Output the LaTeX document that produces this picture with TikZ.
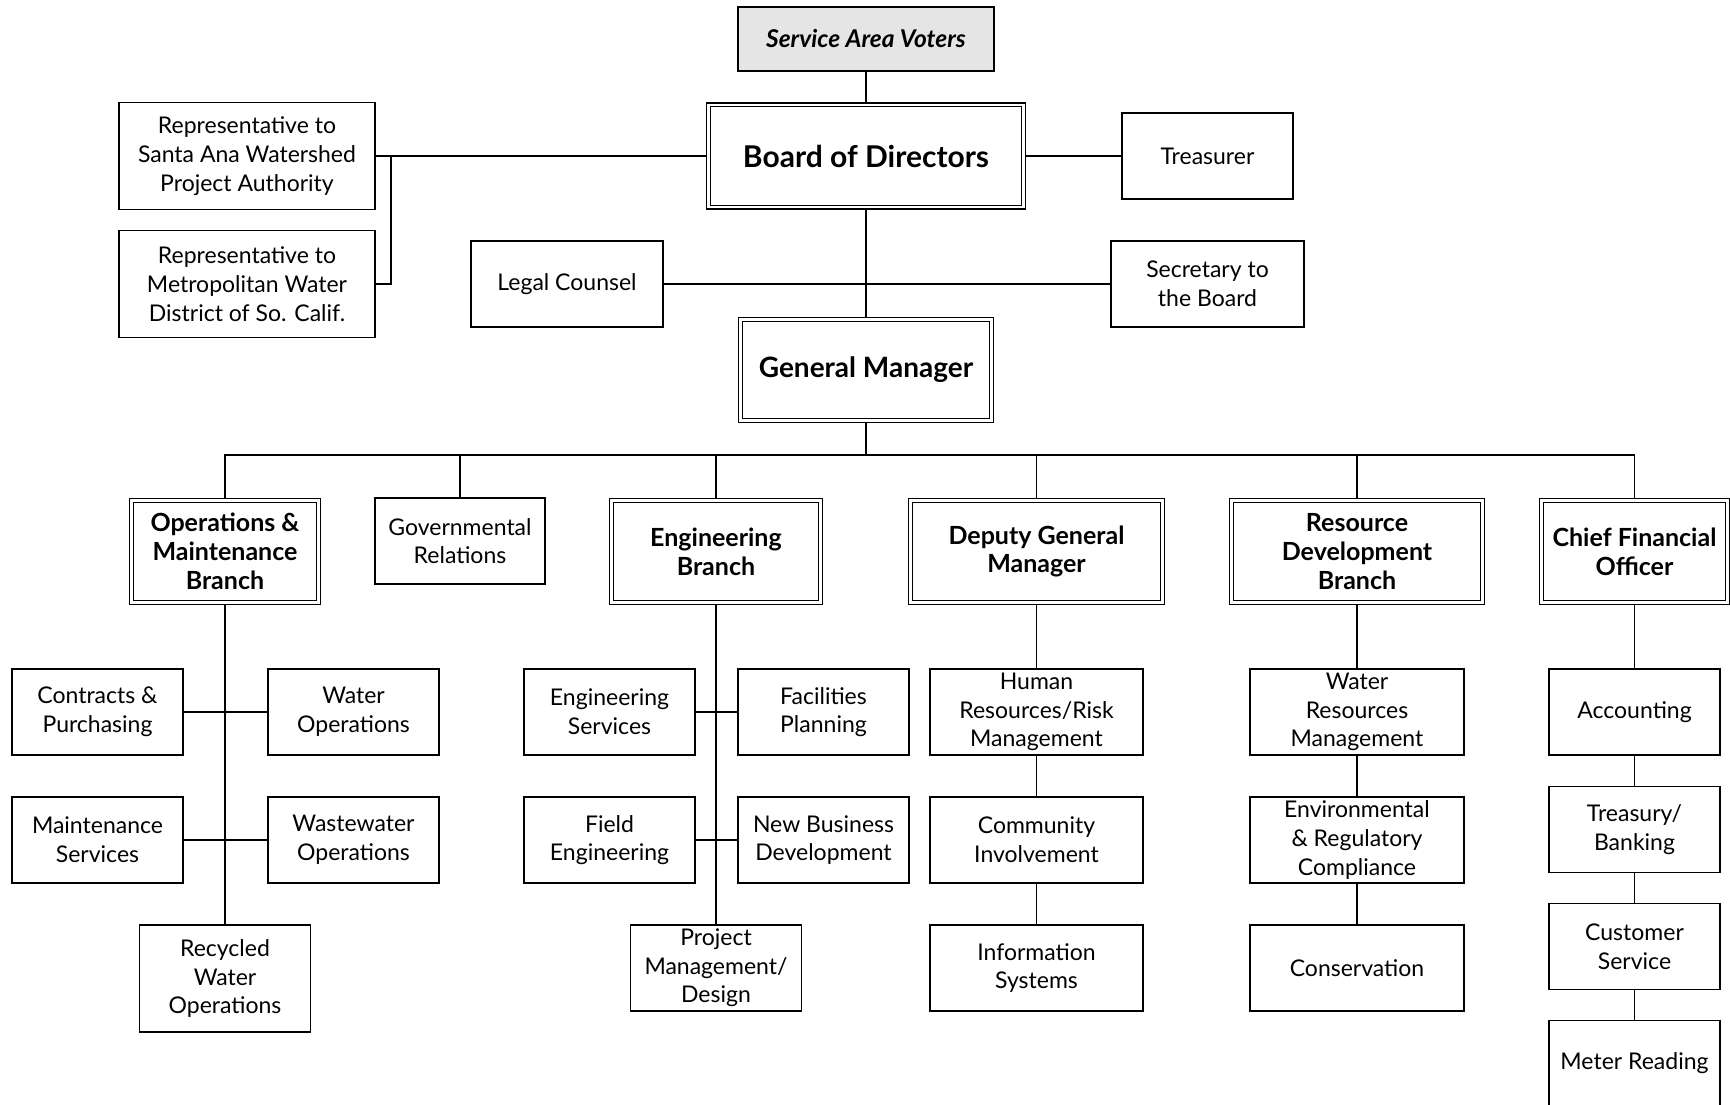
\documentclass[tikz,border=0pt]{standalone}
\usepackage{fontspec}
\setmainfont{Lato}
\usetikzlibrary{positioning,calc}

\begin{document}
\begin{tikzpicture}[
    x=1pt, y=-1pt,
    every node/.style={align=center, inner sep=0pt},
    box/.style={draw, line width=1.6pt, font=\fontsize{23}{28.7}\selectfont},
    unit/.style={box, minimum width=171pt, minimum height=86pt},
    branch/.style={box, double, double distance=2.6pt, line width=1.2pt, outer sep=2.5pt,
        minimum height=102pt, font=\fontsize{25}{28.7}\selectfont\bfseries},
    link/.style={line width=1.4pt}
]
    \useasboundingbox (0,0) rectangle (1730,1105);
    \clip (0,0) rectangle (1730,1105);

    % top of the chart
    \node[box, fill=black!10, minimum width=256pt, minimum height=64pt,
        font=\fontsize{24.5}{28}\selectfont\bfseries\itshape] (voters) at (866,39) {Service Area Voters};
    \node[branch, minimum width=315pt, font=\fontsize{30}{34}\selectfont\bfseries] (board) at (866,156) {Board of Directors};
    \node[unit] (treas) at (1207.5,156) {Treasurer};
    \node[unit, minimum width=256pt, minimum height=107pt] (sawpa) at (247,156) {Representative to\\Santa Ana Watershed\\Project Authority};
    \node[unit, minimum width=256pt, minimum height=107pt] (mwd) at (247,284) {Representative to\\Metropolitan Water\\District of So. Calif.};
    \node[unit, minimum width=192pt] (legal) at (567,284) {Legal Counsel};
    \node[unit, minimum width=193pt] (secr) at (1207.5,284) {Secretary to\\the Board};
    \node[branch, minimum width=251pt, minimum height=101pt, font=\fontsize{28}{32}\selectfont\bfseries] (gm) at (866,370) {General Manager};

    % branches
    \node[branch, minimum width=187pt] (ops) at (225,551.5) {Operations \&\\Maintenance\\Branch};
    \node[unit, minimum width=170pt] (gov) at (460,541) {Governmental\\Relations};
    \node[branch, minimum width=209pt] (eng) at (716,551.5) {Engineering\\Branch};
    \node[branch, minimum width=252pt] (dgm) at (1036.5,551.5) {Deputy General\\Manager};
    \node[branch, minimum width=251pt] (rdb) at (1357,551.5) {Resource\\Development\\Branch};
    \node[branch, minimum width=186pt] (cfo) at (1634.5,551.5) {Chief Financial\\Officer};

    % operations
    \node[unit] (contr) at (97.5,712) {Contracts \&\\Purchasing};
    \node[unit] (watops) at (353.5,712) {Water\\Operations};
    \node[unit] (maint) at (97.5,840) {Maintenance\\Services};
    \node[unit] (waste) at (353.5,840) {Wastewater\\Operations};
    \node[unit, minimum height=107pt] (recyc) at (225,978.5) {Recycled\\Water\\Operations};

    % engineering
    \node[unit] (engsvc) at (609.5,712) {Engineering\\Services};
    \node[unit] (facil) at (823.5,712) {Facilities\\Planning};
    \node[unit] (field) at (609.5,840) {Field\\Engineering};
    \node[unit] (newbiz) at (823.5,840) {New Business\\Development};
    \node[unit] (projm) at (716,968) {Project\\Management/\\Design};

    % deputy general manager
    \node[unit, minimum width=213pt] (hr) at (1036.5,712) {Human\\Resources/Risk\\Management};
    \node[unit, minimum width=213pt] (comm) at (1036.5,840) {Community\\Involvement};
    \node[unit, minimum width=213pt] (info) at (1036.5,968) {Information\\Systems};

    % resource development
    \node[unit, minimum width=214pt] (wrm) at (1357,712) {Water\\Resources\\Management};
    \node[unit, minimum width=214pt] (env) at (1357,840) {Environmental\\\& Regulatory\\Compliance};
    \node[unit, minimum width=214pt] (cons) at (1357,968) {Conservation};

    % finance
    \node[unit] (acct) at (1634.5,712) {Accounting};
    \node[unit] (trsy) at (1634.5,829.5) {Treasury/\\Banking};
    \node[unit] (cust) at (1634.5,946.5) {Customer\\Service};
    \node[unit] (meter) at (1634.5,1063.5) {Meter Reading};

    % connectors
    \draw[link] (voters) -- (board);
    \draw[link] (board) -- (gm);
    \draw[link] (board) -- (treas);
    \draw[link] (board) -- (sawpa);
    \coordinate (repjoin) at (391,156);
    \draw[link] (repjoin) |- (mwd);
    \draw[link] (legal) -- (secr);
    \coordinate (bus) at (866,455);
    \draw[link] (gm) -- (bus);
    \foreach \b in {ops,gov,eng,dgm,rdb,cfo}
        \draw[link] (bus) -| (\b.north);
    \draw[link] (ops) -- (recyc);
    \draw[link] (eng) -- (projm);
    \foreach \l/\r in {contr/watops, maint/waste, engsvc/facil, field/newbiz}
        \draw[link] (\l) -- (\r);
    \foreach \u/\d in {dgm/hr, hr/comm, comm/info, rdb/wrm, wrm/env, env/cons, cfo/acct, acct/trsy, trsy/cust, cust/meter}
        \draw[link] (\u) -- (\d);
\end{tikzpicture}
\end{document}
